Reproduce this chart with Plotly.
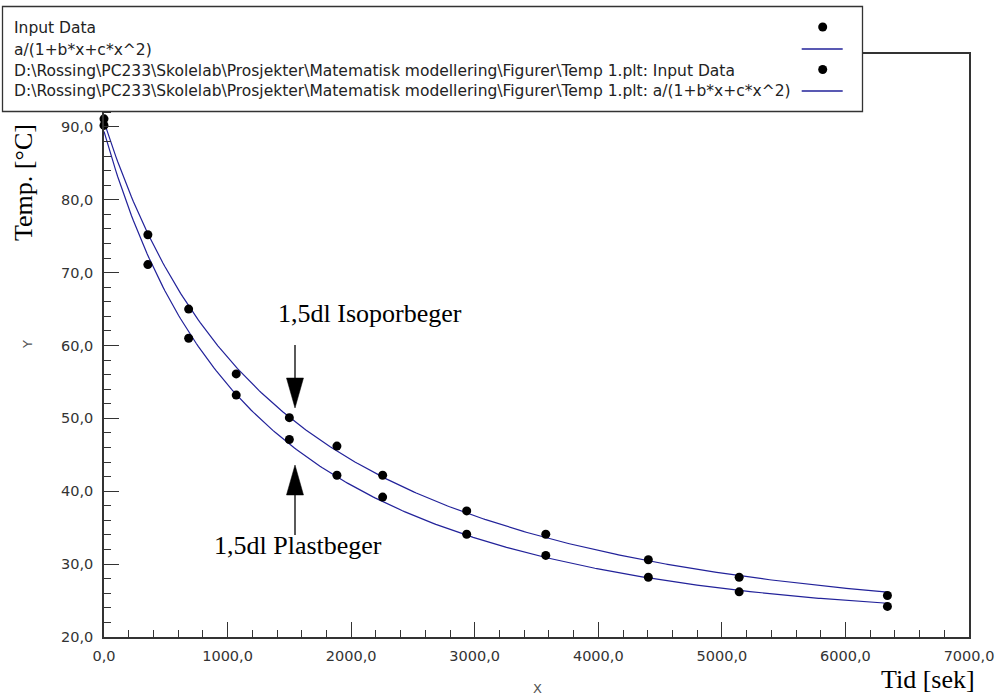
import numpy as np
import plotly.graph_objects as go

# Measured cooling data: time in seconds, temperature in °C
tid_sek = [0, 355, 685, 1070, 1500, 1885, 2255, 2935, 3575, 4405, 5140, 6340]
temp_isopor = [91.1, 75.2, 65.0, 56.1, 50.1, 46.2, 42.2, 37.3, 34.1, 30.6, 28.2, 25.7]
temp_plast = [90.2, 71.1, 61.0, 53.2, 47.1, 42.2, 39.2, 34.1, 31.2, 28.2, 26.2, 24.2]

x_range = [0, 7000]
y_range = [20, 100]
y_ticks = [20, 30, 40, 50, 60, 70, 80, 90]

legend_labels = [
    "Input Data",
    "a/(1+b*x+c*x^2)",
    r"D:\Rossing\PC233\Skolelab\Prosjekter\Matematisk modellering\Figurer\Temp 1.plt: Input Data",
    r"D:\Rossing\PC233\Skolelab\Prosjekter\Matematisk modellering\Figurer\Temp 1.plt: a/(1+b*x+c*x^2)",
]

CURVE = "#22229a"
AXIS = "#333333"
SANS = "DejaVu Sans, Verdana, sans-serif"

# Figure geometry (pixels)
FW, FH = 1001, 697
ML, MR, MT, MB = 104, 32, 54, 60
PW, PH = FW - ML - MR, FH - MT - MB


def px(xp):
    return (xp - ML) / PW


def py(yp):
    return (FH - MB - yp) / PH


def fit_model(x, y):
    """Least-squares fit of y = a/(1+b*x+c*x^2), linearised as 1/y = A + B*x + C*x^2."""
    x = np.asarray(x, float)
    y = np.asarray(y, float)
    C, B, A = np.polyfit(x, 1.0 / y, 2, w=y ** 2)
    a, b, c = 1.0 / A, B / A, C / A
    xs = np.linspace(x.min(), x.max(), 400)
    return xs, a / (1 + b * xs + c * xs ** 2)


fig = go.Figure()

for temps in (temp_isopor, temp_plast):
    xs, ys = fit_model(tid_sek, temps)
    fig.add_trace(go.Scatter(x=xs, y=ys, mode="lines",
                             line=dict(color=CURVE, width=1.2),
                             showlegend=False, hoverinfo="skip"))
    fig.add_trace(go.Scatter(x=tid_sek, y=temps, mode="markers",
                             marker=dict(color="black", size=9),
                             cliponaxis=False, showlegend=False))

tickfont = dict(family=SANS, size=14.5, color="#333333")

fig.update_xaxes(range=x_range, dtick=1000, tickformat=".1f",
                 showgrid=False, zeroline=False,
                 showline=True, linecolor=AXIS, linewidth=1.5, mirror=True,
                 ticks="inside", ticklen=15, tickwidth=1.3, tickcolor=AXIS,
                 minor=dict(ticks="inside", ticklen=7, dtick=200, tickcolor=AXIS, tickwidth=1.3),
                 tickfont=tickfont, ticklabelstandoff=5)
fig.update_yaxes(range=y_range, tickmode="array", tickvals=y_ticks,
                 ticktext=[f"{v:.1f}".replace(".", ",") for v in y_ticks],
                 showgrid=False, zeroline=False,
                 showline=True, linecolor=AXIS, linewidth=1.5, mirror=True,
                 ticks="inside", ticklen=15, tickwidth=1.3, tickcolor=AXIS,
                 minor=dict(ticks="inside", ticklen=7, tickmode="linear", tick0=20, dtick=2,
                            tickcolor=AXIS, tickwidth=1.3),
                 tickfont=tickfont, ticklabelstandoff=6)

shapes = []
annotations = []

# Legend box
shapes.append(dict(type="rect", xref="paper", yref="paper",
                   x0=px(2.5), x1=px(862.5), y0=py(111.5), y1=py(6.5),
                   fillcolor="white", line=dict(color=AXIS, width=1.3), layer="above"))

legend_y = [28, 49.5, 70.5, 91.5]
for i, (label, yc) in enumerate(zip(legend_labels, legend_y)):
    annotations.append(dict(text=label, xref="paper", yref="paper",
                            x=px(12), y=py(yc), xanchor="left", yanchor="middle",
                            showarrow=False,
                            font=dict(family=SANS, size=15.5, color="#222222")))
    if i % 2 == 0:
        shapes.append(dict(type="circle", xref="paper", yref="paper",
                           xsizemode="pixel", ysizemode="pixel",
                           xanchor=px(822.7), yanchor=py(yc - 1),
                           x0=-4.5, x1=4.5, y0=-4.5, y1=4.5,
                           fillcolor="black", line=dict(color="black", width=0), layer="above"))
    else:
        shapes.append(dict(type="line", xref="paper", yref="paper",
                           x0=px(801.7), x1=px(842.7), y0=py(yc - 0.5), y1=py(yc - 0.5),
                           line=dict(color=CURVE, width=1.3), layer="above"))


def path(points, close=False):
    s = "M " + " L ".join(f"{px(a):.5f},{py(b):.5f}" for a, b in points)
    return s + (" Z" if close else "")


# Arrows pointing at the two curves
ax = 295
shapes.append(dict(type="path", xref="paper", yref="paper",
                   path=path([(ax, 345), (ax, 382)]), line=dict(color="black", width=1.3)))
shapes.append(dict(type="path", xref="paper", yref="paper",
                   path=path([(ax - 8.5, 378), (ax + 8.5, 378), (ax, 408)], close=True),
                   fillcolor="black", line=dict(color="black", width=0.5)))
shapes.append(dict(type="path", xref="paper", yref="paper",
                   path=path([(ax, 491), (ax, 535)]), line=dict(color="black", width=1.3)))
shapes.append(dict(type="path", xref="paper", yref="paper",
                   path=path([(ax - 8.5, 495), (ax + 8.5, 495), (ax, 465)], close=True),
                   fillcolor="black", line=dict(color="black", width=0.5)))

serif = dict(family="Liberation Serif, Times New Roman, serif", size=26, color="black")
annotations += [
    dict(text="1,5dl Isoporbeger", xref="paper", yref="paper", x=px(369.5), y=py(313),
         xanchor="center", yanchor="middle", showarrow=False, font=serif),
    dict(text="1,5dl Plastbeger", xref="paper", yref="paper", x=px(298), y=py(545),
         xanchor="center", yanchor="middle", showarrow=False, font=serif),
    dict(text="Tid [sek]", xref="paper", yref="paper", x=px(927.5), y=py(679),
         xanchor="center", yanchor="middle", showarrow=False, font=serif),
    dict(text="Temp. [°C]", xref="paper", yref="paper", x=px(23.5), y=py(182.5),
         xanchor="center", yanchor="middle", showarrow=False, textangle=-90, font=serif),
    dict(text="Y", xref="paper", yref="paper", x=px(27), y=py(345),
         xanchor="center", yanchor="middle", showarrow=False, textangle=-90,
         font=dict(family=SANS, size=13, color="#555555")),
    dict(text="X", xref="paper", yref="paper", x=px(537), y=py(688),
         xanchor="center", yanchor="middle", showarrow=False,
         font=dict(family=SANS, size=13, color="#555555")),
]

fig.update_layout(width=FW, height=FH,
                  margin=dict(l=ML, r=MR, t=MT, b=MB, autoexpand=False),
                  paper_bgcolor="white", plot_bgcolor="white",
                  separators=",.", showlegend=False,
                  shapes=shapes, annotations=annotations)

fig.write_html("out.html")
